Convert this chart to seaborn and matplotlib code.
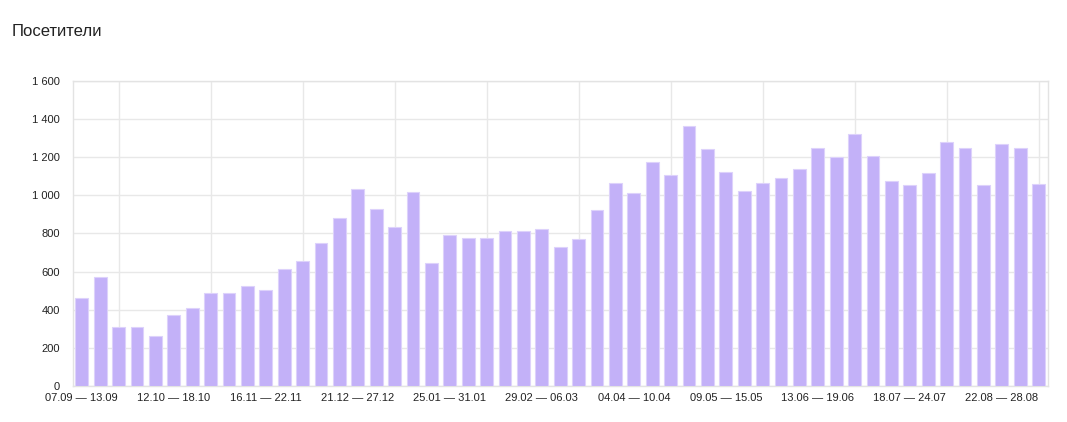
# Weekly visitors bar chart (Посетители)

import numpy as np
import pandas as pd
import matplotlib
matplotlib.use("Agg")
import matplotlib.pyplot as plt
import seaborn as sns
from matplotlib.ticker import FuncFormatter, MultipleLocator

# visitors per week, 53 weeks starting 07.09
visitors = [463, 571, 307, 307, 264, 372, 410, 486, 486, 524,
            505, 613, 655, 751, 880, 1032, 929, 831, 1017, 643,
            793, 774, 774, 812, 812, 821, 727, 769, 921, 1062,
            1010, 1176, 1104, 1362, 1240, 1120, 1020, 1062, 1090, 1137,
            1245, 1198, 1321, 1207, 1074, 1052, 1116, 1279, 1249, 1052,
            1268, 1249, 1060]

# labels shown every 5th week
tick_labels = ['07.09 — 13.09', '12.10 — 18.10', '16.11 — 22.11',
               '21.12 — 27.12', '25.01 — 31.01', '29.02 — 06.03',
               '04.04 — 10.04', '09.05 — 15.05', '13.06 — 19.06',
               '18.07 — 24.07', '22.08 — 28.08']

title = 'Посетители'

df = pd.DataFrame({'week': np.arange(len(visitors)), 'visitors': visitors})

sns.set_style('white')
plt.rcParams['font.family'] = ['Liberation Sans', 'DejaVu Sans']

fig = plt.figure(figsize=(10.67, 4.22), dpi=100)
ax = fig.add_axes([0.068, 0.0853, 0.914, 0.7235])

sns.barplot(data=df, x='week', y='visitors', color='#c3b1f8',
            saturation=1, width=0.7, edgecolor='#ddd2fb', linewidth=0.8,
            ax=ax, zorder=3)

# grid
ax.set_ylim(0, 1600)
ax.set_xlim(-0.5, len(visitors) - 0.5)
ax.yaxis.set_major_locator(MultipleLocator(200))
ax.grid(True, axis='y', color='#e8e8e8', linewidth=1, zorder=0)
for pos in range(2, len(visitors), 5):
    ax.axvline(pos, color='#e8e8e8', linewidth=1, zorder=0)

ax.set_xticks(range(0, len(visitors), 5))
ax.set_xticklabels(tick_labels)
ax.yaxis.set_major_formatter(FuncFormatter(lambda v, p: f'{int(v):,}'.replace(',', ' ')))
ax.tick_params(axis='both', length=0, labelsize=8, colors='#222222')
ax.tick_params(axis='y', pad=9)
ax.tick_params(axis='x', pad=5)
ax.set_xlabel('')
ax.set_ylabel('')

for side in ax.spines.values():
    side.set_color('#e3e3e3')
    side.set_linewidth(1)

fig.text(12 / 1067, 1 - 31 / 422, title, fontsize=12, color='#222222',
         ha='left', va='center')

plt.savefig('out.png', dpi=100)
